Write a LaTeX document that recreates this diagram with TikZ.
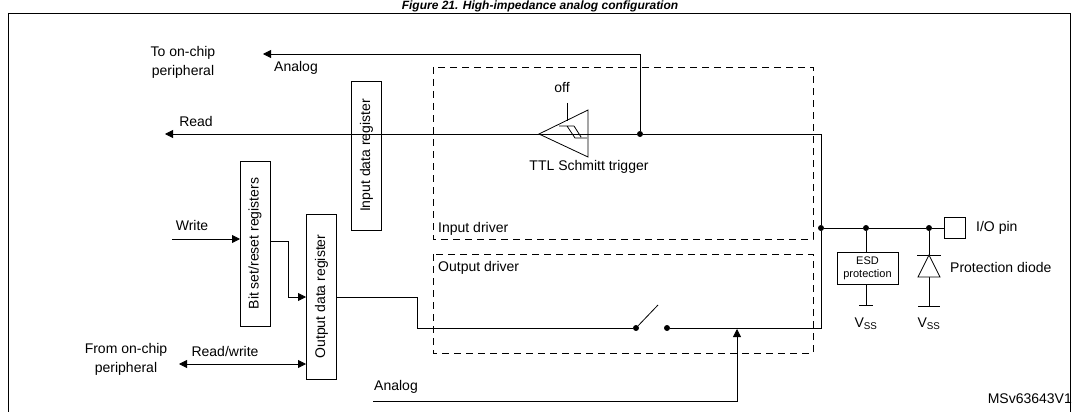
\documentclass[tikz,border=0pt]{standalone}
\usepackage{fontspec}
\setmainfont{Liberation Sans}
\usetikzlibrary{arrows.meta}
\begin{document}
\begin{tikzpicture}[
        x=1pt, y=-1pt,
        every node/.style={font=\fontsize{14}{15}\selectfont, inner sep=1pt},
        reg/.style={draw, thick, minimum height=30pt, rotate=90, inner sep=0pt},
        drv/.style={draw, dashed, thick, dash pattern=on 7pt off 5pt},
        wire/.style={draw, thick},
        arr/.style={wire, -{Triangle[length=8pt, width=8pt]}},
        dot/.style={circle, fill, minimum size=6pt, inner sep=0pt},
    ]
    \useasboundingbox (0,0) rectangle (1077,412);
    \draw[thick] (8,13) -- (8,415) (8,13) -- (1070,13) -- (1070,415);
    \node[font=\bfseries\itshape\fontsize{12}{13}\selectfont, inner sep=0pt] (title) at (540,6) {Figure 21. High-impedance analog configuration};
    % driver boxes
    \draw[drv] (433,67) rectangle (813,239);
    \draw[drv] (433,254) rectangle (813,353);
    \node[anchor=west] (indrv) at (437,229) {Input driver};
    \node[anchor=west] (outdrv) at (437,268) {Output driver};
    % registers
    \node[reg, minimum width=149pt] (idr) at (366.5,155.5) {Input data register};
    \node[reg, minimum width=165pt] (bsr) at (255,243.5) {Bit set/reset registers};
    \node[reg, minimum width=165pt] (odr) at (321.5,296.5) {Output data register};
    % schmitt trigger
    \coordinate (sttip) at (539,134);
    \draw[thick] (sttip) -- (588,110) -- (588,157) -- cycle;
    \draw[thick] (567,103) -- (567,121);
    \draw[thick] (559,126) -- (574,126) (567,126) -- (575,138) -- (587,138) (574,126) -- (581,137);
    \node (off) at (562,88) {off};
    \node (ttl) at (589,167) {TTL Schmitt trigger};
    \node[dot] (stdot) at (640,134) {};
    \coordinate (rdend) at (165,134);
    \coordinate (angl) at (263,54);
    \node[dot] (jn) at (821,228) {};
    \draw[wire] (jn) |- (stdot) -- (sttip);
    \draw[arr] (sttip) -- (rdend);
    \draw[arr] (stdot) |- (angl);
    \node (rd) at (196,121) {Read};
    \node (an1) at (296,68) {Analog};
    \node[align=center, font=\fontsize{14}{19}\selectfont] (toper) at (183,62) {To on-chip\\peripheral};
    % output path
    \coordinate (wrst) at (172,239);
    \draw[arr] (wrst) -- (240,239);
    \node (wr) at (192,225) {Write};
    \draw[arr] (270,241) -- (288,241) |- (306,297);
    \node[dot] (swa) at (636,328) {};
    \node[dot] (swb) at (667,328) {};
    \draw[wire] (337,297) -- (417,297) |- (swa);
    \draw[wire] (swa) -- (658,305);
    \draw[wire] (swb) -- (821,328) -- (jn);
    \coordinate (anst) at (373,401);
    \draw[arr] (anst) -| (737,329);
    \node (an2) at (396,387) {Analog};
    \draw[wire, {Triangle[length=8pt, width=8pt]}-{Triangle[length=8pt, width=8pt]}] (179,364) -- (306,364);
    \node (rw) at (225,351) {Read/write};
    \node[align=center, font=\fontsize{14}{19}\selectfont] (fromper) at (126,359) {From on-chip\\peripheral};
    % pin side
    \node[dot] (esddot) at (866,228) {};
    \node[dot] (diodot) at (929,228) {};
    \node[draw, thick, minimum size=21pt, inner sep=0pt] (pin) at (955,228) {};
    \node[anchor=west] (piotxt) at (975,228) {I/O pin};
    \draw[wire] (jn) -- (esddot) -- (diodot) -- (pin);
    \node[draw, thick, align=center, minimum width=61pt, minimum height=32pt, font=\fontsize{11}{13}\selectfont, inner sep=0pt] (esd) at (867.5,268) {ESD\\protection};
    \draw[wire] (esddot) -- (866,252);
    \draw[wire] (866,284) -- (866,305);
    \draw[thick] (859,305) -- (873,305);
    \node (vss1) at (866,324) {V\textsubscript{SS}};
    \draw[thick] (diodot) -- (929,306) (918,306) -- (940,306);
    \draw[thick] (917,255) -- (941,255);
    \draw[thick, fill=white] (929,255) -- (918,277) -- (940,277) -- cycle;
    \node (vss2) at (929,324) {V\textsubscript{SS}};
    \node[anchor=west] (pdtxt) at (949,267) {Protection diode};
    \node[anchor=east] (ref) at (1073,399) {MSv63643V1};
\end{tikzpicture}
\end{document}
